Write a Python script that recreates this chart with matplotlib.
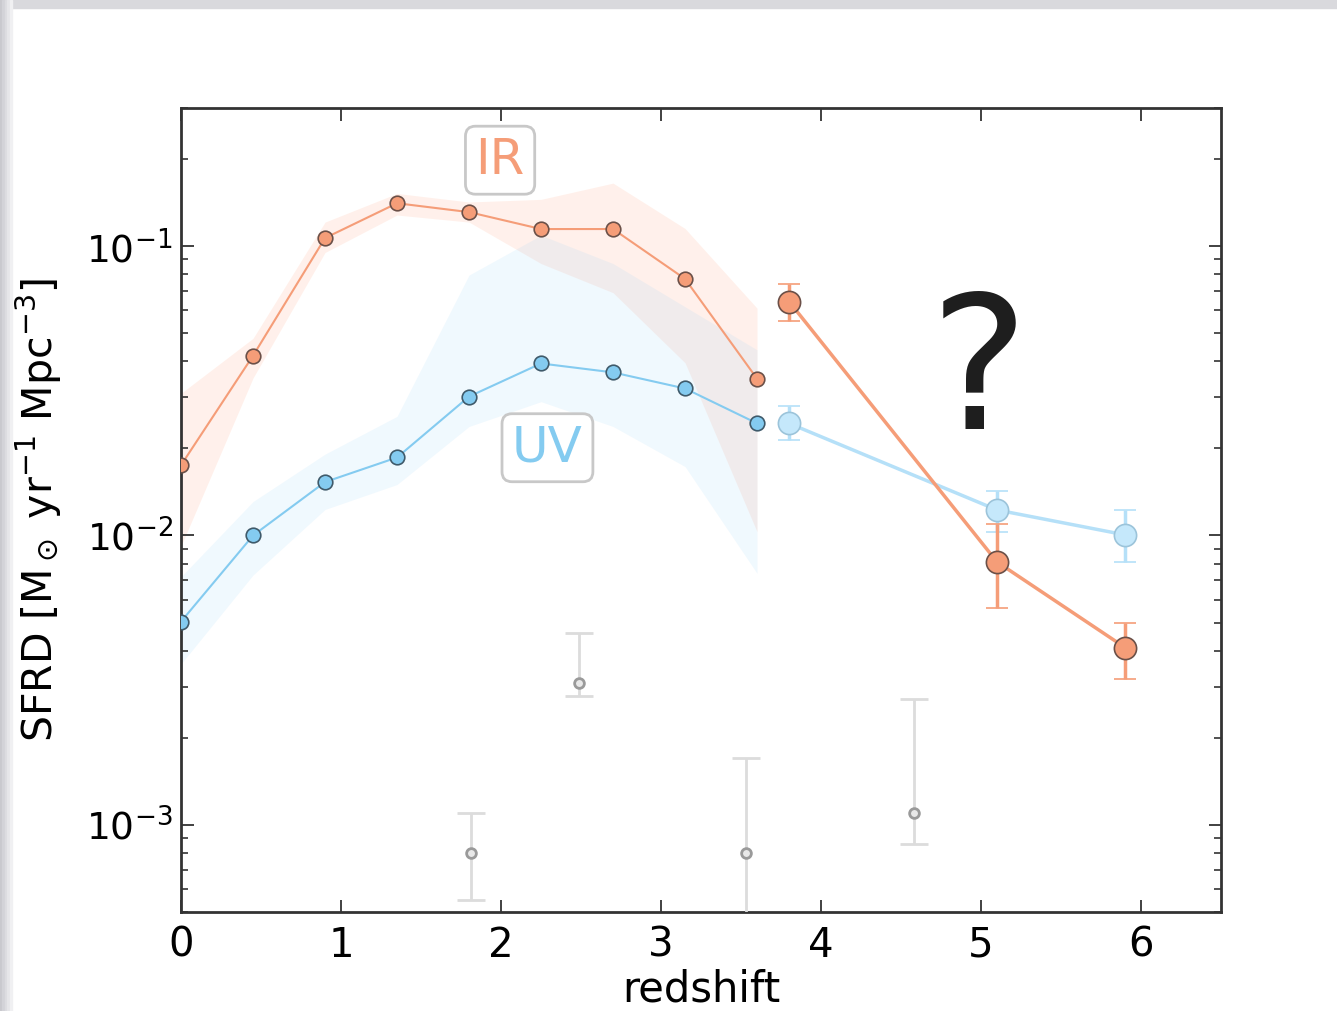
import numpy as np
import matplotlib
matplotlib.use("Agg")
import matplotlib.pyplot as plt
from matplotlib.patches import Rectangle

# cosmic star formation rate density, IR and UV tracers
z_band = [0.0, 0.45, 0.9, 1.35, 1.8, 2.25, 2.7, 3.15, 3.6]
ir_sfrd = [0.0175, 0.0418, 0.1066, 0.1406, 0.131, 0.1145, 0.1145, 0.077, 0.0348]
ir_low = [0.0092, 0.035, 0.095, 0.128, 0.121, 0.087, 0.069, 0.0395, 0.0103]
ir_high = [0.031, 0.048, 0.121, 0.152, 0.142, 0.145, 0.165, 0.115, 0.061]
uv_sfrd = [0.00504, 0.0100, 0.0153, 0.0186, 0.0302, 0.0393, 0.0366, 0.0322, 0.0244]
uv_low = [0.0036, 0.0073, 0.0123, 0.0150, 0.0238, 0.029, 0.0238, 0.0173, 0.0074]
uv_high = [0.0072, 0.0131, 0.0191, 0.0258, 0.0794, 0.109, 0.087, 0.0617, 0.0438]

# high-redshift points
z_hi = [3.8, 5.1, 5.9]
ir_hi = [0.0643, 0.0081, 0.0041]
ir_hi_lo = [0.0549, 0.0056, 0.0032]
ir_hi_up = [0.0740, 0.0110, 0.0050]
uv_hi = [0.0244, 0.01225, 0.01005]
uv_hi_lo = [0.0214, 0.0103, 0.0081]
uv_hi_up = [0.0280, 0.0142, 0.0122]

# faint measurements
z_faint = [1.81, 2.49, 3.53, 4.58]
faint = [0.0008, 0.0031, 0.0008, 0.0011]
faint_lo = [0.00055, 0.00279, 0.0002, 0.000856]
faint_up = [0.0011, 0.00461, 0.0017, 0.00272]

ir_col = "#f59d78"
uv_col = "#84cbf0"

plt.rcParams["axes.unicode_minus"] = False

fig = plt.figure(figsize=(13.37, 10.11), dpi=100)
# slide frame
fig.patches.append(Rectangle((0, 0.992), 1, 0.008, transform=fig.transFigure,
                             color="#d9d9dd", zorder=-10))
for i, c in enumerate(["#c9c9ce", "#d3d3d8", "#dcdce0", "#e6e6e9", "#f0f0f2"]):
    fig.patches.append(Rectangle((i * 0.0018, 0), 0.0018, 1, transform=fig.transFigure,
                                 color=c, zorder=-10))

ax = fig.add_axes([0.1354, 0.0979, 0.7779, 0.7953])

ax.fill_between(z_band, ir_low, ir_high, color="lightsalmon", alpha=0.15, lw=0)
ax.fill_between(z_band, uv_low, uv_high, color="lightskyblue", alpha=0.12, lw=0)

ax.plot(z_band, ir_sfrd, "-o", color=ir_col, lw=1.5, ms=10.5,
        mfc=ir_col, mec="#6b5048", mew=1.2, zorder=4)
ax.plot(z_band, uv_sfrd, "-o", color=uv_col, lw=1.5, ms=10.5,
        mfc=uv_col, mec="#3f5a6a", mew=1.2, zorder=4)

ir_hi_a = np.array(ir_hi)
uv_hi_a = np.array(uv_hi)
ax.errorbar(z_hi, ir_hi, yerr=[ir_hi_a - ir_hi_lo, np.array(ir_hi_up) - ir_hi_a],
            fmt="-o", color=ir_col, lw=2.5, ms=16, mfc=ir_col, mec="#6b5048",
            mew=1.2, elinewidth=2.5, capsize=8, capthick=2, zorder=5)
ax.errorbar(z_hi, uv_hi, yerr=[uv_hi_a - uv_hi_lo, np.array(uv_hi_up) - uv_hi_a],
            fmt="-o", color="#b5e0f8", lw=2.5, ms=16, mfc="#c5e8fb", mec="#9cc4da",
            mew=1.2, elinewidth=2.5, capsize=8, capthick=2, zorder=4)

faint_a = np.array(faint)
ax.errorbar(z_faint, faint, yerr=[faint_a - faint_lo, np.array(faint_up) - faint_a],
            fmt="o", color="#dcdcdc", ms=7, mfc="#e8e8e8", mec="#9a9a9a", mew=2,
            elinewidth=2, capsize=10, capthick=2, zorder=3)

ax.text(1.994, 0.198, "IR", color=ir_col, fontsize=36, ha="center", va="center",
        zorder=6, bbox=dict(boxstyle="round,pad=0.2", fc="white", ec="#c8c8c8", lw=2))
ax.text(2.29, 0.0201, "UV", color=uv_col, fontsize=36, ha="center", va="center",
        zorder=6, bbox=dict(boxstyle="round,pad=0.2", fc="white", ec="#c8c8c8", lw=2))
ax.text(4.99, 0.035, "?", color="#1e1e1e", fontsize=134, ha="center", va="center",
        zorder=6)

ax.set_yscale("log")
ax.set_xlim(0, 6.5)
ax.set_ylim(5e-4, 0.3)
ax.set_xticks([0, 1, 2, 3, 4, 5, 6])
ax.tick_params(which="both", direction="in", top=True, right=True, colors="#333333",
               labelcolor="black", labelsize=29, pad=10)
ax.tick_params(axis="y", labelsize=27, pad=6)
ax.tick_params(which="major", length=9, width=1.3)
ax.tick_params(which="minor", length=5, width=1.2)
for s in ax.spines.values():
    s.set_color("#333333")
    s.set_linewidth(2)

ax.set_xlabel("redshift", fontsize=30, labelpad=2)
ax.set_ylabel(r"SFRD [M$_\odot$ yr$^{-1}$ Mpc$^{-3}$]", fontsize=29.5)
ax.yaxis.set_label_coords(-0.113, 0.5)

fig.savefig("out.png", dpi=100, facecolor="white")
